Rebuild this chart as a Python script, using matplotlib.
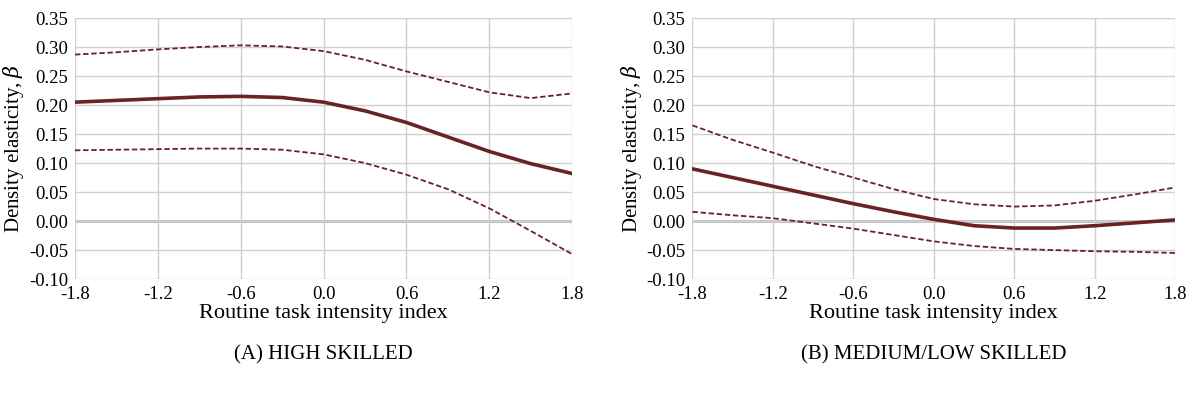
import matplotlib.pyplot as plt
import numpy as np

maroon = "#6b2224"

x = [-1.8, -1.5, -1.2, -0.9, -0.6, -0.3, 0.0, 0.3, 0.6, 0.9, 1.2, 1.5, 1.8]

high_mid = [.205, .208, .211, .214, .215, .213, .205, .190, .170, .145, .120, .099, .082]
high_up  = [.287, .291, .296, .300, .303, .301, .293, .278, .258, .240, .222, .212, .220]
high_lo  = [.122, .123, .124, .125, .125, .123, .115, .100, .080, .055, .022, -.017, -.057]

low_mid = [.090, .075, .060, .045, .030, .016, .003, -.008, -.012, -.012, -.008, -.003, .002]
low_up  = [.165, .140, .118, .095, .075, .055, .038, .029, .025, .027, .035, .046, .058]
low_lo  = [.016, .010, .005, -.004, -.013, -.024, -.035, -.043, -.048, -.050, -.052, -.053, -.055]

xticks = [-1.8, -1.2, -0.6, 0.0, 0.6, 1.2, 1.8]
yticks = [-0.10, -0.05, 0.0, 0.05, 0.10, 0.15, 0.20, 0.25, 0.30, 0.35]

plt.rcParams['font.family'] = ['Liberation Serif', 'DejaVu Serif']
plt.rcParams['mathtext.fontset'] = 'dejavuserif'

fig = plt.figure(figsize=(11.98, 4.01), dpi=100)
ax1 = fig.add_axes([0.0626, 0.304, 0.415, 0.651])
ax2 = fig.add_axes([0.578, 0.304, 0.403, 0.651])

panels = [(ax1, high_mid, high_up, high_lo, "(A) HIGH SKILLED"),
          (ax2, low_mid, low_up, low_lo, "(B) MEDIUM/LOW SKILLED")]

for ax, mid, up, lo, cap in panels:
    ax.set_xlim(-1.8, 1.8)
    ax.set_ylim(-0.10, 0.35)
    ax.set_xticks(xticks)
    ax.set_yticks(yticks)
    ax.set_xticklabels([f"{t:.1f}" for t in xticks])
    ax.set_yticklabels([f"{t:.2f}" for t in yticks])
    ax.grid(True, color="#d0d0d0", lw=1)
    ax.axhline(0, color="#c0c0c0", lw=2.2, zorder=1)
    for s in ax.spines.values():
        s.set_visible(False)
    ax.tick_params(length=0, labelsize=13.5, pad=5)
    ax.plot(x, mid, color=maroon, lw=2.6, zorder=3)
    ax.plot(x, up, color=maroon, lw=1.3, ls=(0, (3, 1.5)), zorder=3)
    ax.plot(x, lo, color=maroon, lw=1.3, ls=(0, (3, 1.5)), zorder=3)
    ax.set_xlabel("Routine task intensity index", fontsize=16, labelpad=1)
    ax.set_ylabel(r"Density elasticity, $\beta$", fontsize=15, labelpad=2)
    ax.text(0.5, -0.29, cap, transform=ax.transAxes, ha="center", va="center",
            fontsize=15)

fig.savefig("out.png", dpi=100)
